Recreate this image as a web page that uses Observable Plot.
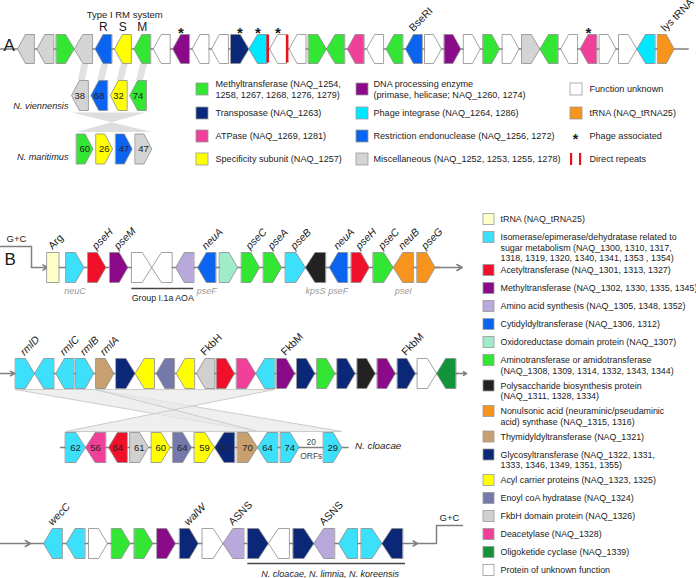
<!DOCTYPE html>
<html><head><meta charset="utf-8">
<script src="https://cdn.jsdelivr.net/npm/d3@7"></script>
<script src="https://cdn.jsdelivr.net/npm/@observablehq/plot@0.6"></script>
<style>body{margin:0;background:#fff} #chart svg{display:block}</style>
</head><body><div id="chart"></div>
<script>
// ================= DATA =================
// Panel A: main island (gene category, orientation: 1 = forward, -1 = reverse)
const rowA_cats = ["misc","misc","methyl","misc","restr","spec","methyl","unk","dna","unk","unk","transp","integr","unk","unk","methyl","methyl","atpase","unk","methyl","restr","unk","dna","unk","methyl","unk","misc","methyl","unk","atpase","unk","unk","integr","trnaA"];
const rowA_dirs = [-1,-1,1,-1,-1,-1,-1,-1,-1,-1,-1,1,-1,-1,-1,1,-1,-1,-1,-1,-1,1,1,1,1,1,1,-1,-1,-1,1,1,-1,1];
const rowA_phage = [8,11,12,13,29];          // phage associated genes (index)
const rowA_repeats = [12,13];                // direct repeat after gene index
const rmIdx = [4,5,6];
const rmLetters = ["R","S","M"];
const rowA_rotIdx = [20,33];
const rowA_rotText = ["BseRI","lys tRNA"];
const vien_cats = ["misc","restr","spec","methyl"];
const vien_dirs = [-1,-1,-1,-1];
const vien_ident = ["38","68","32","74"];
const mari_cats = ["methyl","spec","restr","misc"];
const mari_dirs = [1,1,1,1];
const mari_ident = ["60","26","47","47"];

// Panel B rows
const rowB1_cats = ["trnaB","iso","acetyl","methylB","unk","unk","amino","cytidyl","oxido","aminotr","aminotr","iso","poly","cytidyl","acetyl","aminotr","nonul","nonul"];
const rowB1_dirs = [0,1,1,1,1,-1,-1,-1,1,1,1,1,-1,-1,1,1,-1,1];
const rowB1_topIdx = [0,2,3,7,9,10,11,13,14,15,16,17];
const rowB1_topText = ["Arg","pseH","pseM","neuA","pseC","pseA","pseB","neuA","pseH","pseC","neuB","pseG"];
const rowB1_botIdx = [1,7,12,13,16];
const rowB1_botText = ["neuC","pseF","kpsS","pseF","pseI"];
const rowB2_cats = ["iso","iso","iso","iso","thymid","glyco","acyl","enoyl","acyl","fkbh","acetyl","deacet","iso","methylB","glyco","aminotr","glyco","poly","methylB","glyco","unk","oligo"];
const rowB2_dirs = [1,-1,-1,1,1,1,-1,-1,-1,-1,1,1,-1,1,1,1,1,1,1,1,1,-1];
const rowB2_topIdx = [0,2,3,4,9,13,19];
const rowB2_topText = ["rmlD","rmlC","rmlB","rmlA","FkbH","FkbM","FkbM"];
const clo_cats = ["iso","deacet","acetyl","fkbh","acyl","enoyl","acyl","glyco","thymid","iso","iso","gap","iso"];
const clo_dirs = [1,-1,-1,1,1,1,1,-1,1,-1,1,0,1];
const clo_ident = ["62","56","64","61","60","64","59","63","70","64","74","","29"];
const rowB3_cats = ["iso","iso","unk","aminotr","aminotr","methylB","glyco","unk","amino","glyco","unk","glyco","amino","iso","iso","glyco"];
const rowB3_dirs = [-1,-1,1,1,1,1,1,1,-1,1,-1,1,-1,-1,1,-1];
const rowB3_topIdx = [0,6,8,12];
const rowB3_topText = ["wecC","walW","ASNS","ASNS"];

// Legends
const legA_text = [
  "Methyltransferase (NAQ_1254,\n1258, 1267, 1268, 1276, 1279)", "Transposase (NAQ_1263)", "ATPase (NAQ_1269, 1281)", "Specificity subunit (NAQ_1257)",
  "DNA processing enzyme\n(primase, helicase; NAQ_1260, 1274)", "Phage integrase (NAQ_1264, 1286)", "Restriction endonuclease (NAQ_1256, 1272)", "Miscellaneous (NAQ_1252, 1253, 1255, 1278)",
  "Function unknown", "tRNA (NAQ_tRNA25)", "Phage associated", "Direct repeats"];
const legA_cats = ["methyl","transp","atpase","spec","dna","integr","restr","misc","unk","trnaA","star","repeat"];
const legB_text = [
  "tRNA (NAQ_tRNA25)",
  "Isomerase/epimerase/dehydratase related to\nsugar metabolism (NAQ_1300, 1310, 1317,\n1318, 1319, 1320, 1340, 1341, 1353 , 1354)",
  "Acetyltransferase (NAQ_1301, 1313, 1327)",
  "Methyltransferase (NAQ_1302, 1330, 1335, 1345)",
  "Amino acid synthesis (NAQ_1305, 1348, 1352)",
  "Cytidyldyltransferase (NAQ_1306, 1312)",
  "Oxidoreductase domain protein (NAQ_1307)",
  "Aminotransferase or amidotransferase\n(NAQ_1308, 1309, 1314, 1332, 1343, 1344)",
  "Polysaccharide biosynthesis protein\n(NAQ_1311, 1328, 1334)",
  "Nonulsonic acid (neuraminic/pseudaminic\nacid) synthase (NAQ_1315, 1316)",
  "Thymidyldyltransferase (NAQ_1321)",
  "Glycosyltransferase (NAQ_1322, 1331,\n1333, 1346, 1349, 1351, 1355)",
  "Acyl carrier proteins (NAQ_1323, 1325)",
  "Enoyl coA hydratase (NAQ_1324)",
  "FkbH domain protein (NAQ_1326)",
  "Deacetylase (NAQ_1328)",
  "Oligoketide cyclase (NAQ_1339)",
  "Protein of unknown function"];
const legB_cats = ["trnaB","iso","acetyl","methylB","amino","cytidyl","oxido","aminotr","poly","nonul","thymid","glyco","acyl","enoyl","fkbh","deacet","oligo","unk"];

// ================= STYLE / LAYOUT =================
const COLORS = {
  methyl:"#33e633", transp:"#0b2878", atpase:"#f0409a", spec:"#ffff00", dna:"#8a0a8a",
  integr:"#00e8ff", restr:"#0a64f0", misc:"#d4d4d4", unk:"#ffffff", trnaA:"#f7941d",
  trnaB:"#ffffcc", iso:"#3ce0fa", acetyl:"#f0102a", methylB:"#8a0a8a", amino:"#b8a8dc",
  cytidyl:"#0a64f0", oxido:"#a0ecc8", aminotr:"#33e633", poly:"#222222", nonul:"#f7941d",
  thymid:"#c8a070", glyco:"#0b2878", acyl:"#ffff00", enoyl:"#7478aa", fkbh:"#d0d0d0",
  deacet:"#f0409a", oligo:"#129438"
};
const FONT = '"Liberation Sans", Arial, Helvetica, sans-serif';
const LAY = {
  A:    {x0:17,   pitch:19.4,  w:16.5, yc:48.5, h:29},
  vien: {x0:71,   pitch:19.4,  w:16.5, yc:95,   h:30},
  mari: {x0:76,   pitch:19.6,  w:16.5, yc:148.5,h:30},
  B1:   {x0:43.5, pitch:21.95, w:18,   yc:267,  h:30},
  B2:   {x0:15,   pitch:20.1,  w:18,   yc:373,  h:30},
  clo:  {x0:65,   pitch:21.5,  w:18.5, yc:447,  h:30},
  B3:   {x0:43,   pitch:22.7,  w:18.5, yc:543,  h:30}
};

function buildRow(name, cats, dirs, ident) {
  const L = LAY[name];
  const g = cats.map((c, i) => ({row:name, i, cat:c, dir:dirs[i], ident: ident ? ident[i] : "",
    x0: L.x0 + i*L.pitch, x1: L.x0 + i*L.pitch + L.w, yc: L.yc, h: L.h}));
  for (let i = 0; i < g.length - 1; i++) {
    const a = g[i], b = g[i+1];
    if (a.cat !== "gap" && b.cat !== "gap" && a.dir === 1 && b.dir === -1) {
      const m = (a.x1 + b.x0) / 2; a.x1 = m; b.x0 = m;
    }
  }
  g.forEach(d => { d.cx = (d.x0 + d.x1) / 2; d.top = d.yc - d.h/2; d.bot = d.yc + d.h/2; });
  return g;
}
const rows = {
  A: buildRow("A", rowA_cats, rowA_dirs),
  vien: buildRow("vien", vien_cats, vien_dirs, vien_ident),
  mari: buildRow("mari", mari_cats, mari_dirs, mari_ident),
  B1: buildRow("B1", rowB1_cats, rowB1_dirs),
  B2: buildRow("B2", rowB2_cats, rowB2_dirs),
  clo: buildRow("clo", clo_cats, clo_dirs, clo_ident),
  B3: buildRow("B3", rowB3_cats, rowB3_dirs)
};
const allGenes = Object.values(rows).flat().filter(g => g.cat !== "gap");

function shape(g) {
  const {x0, x1, yc, h, dir} = g, t = h/2;
  if (dir === 0) { const c = (x0+x1)/2, hw = 6; return [[c-hw,yc-t],[c+hw,yc-t],[c+hw,yc+t],[c-hw,yc+t]]; }
  const tl = (x1 - x0) * 0.48;
  if (dir === 1) return [[x0,yc-t],[x1-tl,yc-t],[x1,yc],[x1-tl,yc+t],[x0,yc+t]];
  return [[x1,yc-t],[x0+tl,yc-t],[x0,yc],[x0+tl,yc+t],[x1,yc+t]];
}
const genePts = allGenes.flatMap(g => shape(g).map(([x,y]) => ({id: g.row + "_" + g.i, x, y, fill: COLORS[g.cat]})));

// connectors (homology shading)
function quad(id, x0t, x1t, yt, x0b, x1b, yb, invert) {
  const pts = invert ? [[x0t,yt],[x1t,yt],[x0b,yb],[x1b,yb]] : [[x0t,yt],[x1t,yt],[x1b,yb],[x0b,yb]];
  return pts.map(([x,y]) => ({id, x, y}));
}
const A = rows.A, V = rows.vien, M = rows.mari, B2 = rows.B2, C = rows.clo;
const connA = [3].concat(rmIdx).map((gi, k) => {
  const top = A[gi], bot = V[k];
  return quad("c"+k, top.cx-2, top.cx+5, top.bot+0.5, bot.cx-2, bot.cx+5, bot.top-0.5, false);
}).flat();
const hour = quad("h", V[0].x0, V[3].x1, V[0].bot+2, M[0].x0, M[3].x1, M[0].top-2, true);
const connB = [
  ...quad("b1", B2[0].x0, B2[3].x1, B2[0].bot+1, C[9].x0, C[12].x1, C[0].top-1, false),
  ...quad("b2", B2[4].x0, B2[12].x1, B2[0].bot+1, C[0].x0, C[8].x1, C[0].top-1, true)
];

// backbone lines
const B1 = rows.B1, B3 = rows.B3;
const lines = [
  {id:"A", pts:[[0,A[0].yc],[A[A.length-1].x1+14,A[0].yc]]},
  {id:"B1g", pts:[[0,246],[31,246],[31,B1[0].yc]]},
  {id:"B1", pts:[[46,B1[0].yc],[B1[B1.length-1].x1+5,B1[0].yc]]},
  {id:"B2", pts:[[14,B2[0].yc],[B2[B2.length-1].x1+2,B2[0].yc]]},
  {id:"clo", pts:[[C[0].x0-5,C[0].yc],[C[C.length-1].x1+6,C[0].yc]]},
  {id:"B3", pts:[[30,B3[0].yc],[B3[B3.length-1].x1,B3[0].yc]]},
  {id:"B3g", pts:[[415,B3[0].yc],[436,B3[0].yc],[436,525],[462,525]]}
].flatMap(l => l.pts.map(([x,y]) => ({id:l.id, x, y})));
const arrows = [
  {x1:31, y1:B1[0].yc, x2:47, y2:B1[0].yc},
  {x1:B1[B1.length-1].x1, y1:B1[0].yc, x2:B1[B1.length-1].x1+27, y2:B1[0].yc},
  {x1:0, y1:B2[0].yc, x2:14, y2:B2[0].yc},
  {x1:B2[B2.length-1].x1, y1:B2[0].yc, x2:B2[B2.length-1].x1+11, y2:B2[0].yc},
  {x1:0, y1:B3[0].yc, x2:30, y2:B3[0].yc},
  {x1:B3[B3.length-1].x1, y1:B3[0].yc, x2:B3[B3.length-1].x1+15, y2:B3[0].yc}
];

// rotated labels
const rotLabels = [
  ...rowA_rotIdx.map((gi,k) => ({g:A[gi], t:rowA_rotText[k], it:false})),
  ...rowB1_topIdx.map((gi,k) => ({g:B1[gi], t:rowB1_topText[k], it: rowB1_topText[k] !== "Arg"})),
  ...rowB2_topIdx.map((gi,k) => ({g:B2[gi], t:rowB2_topText[k], it: !/^Fkb/.test(rowB2_topText[k])})),
  ...rowB3_topIdx.map((gi,k) => ({g:B3[gi], t:rowB3_topText[k], it: rowB3_topText[k] !== "ASNS"}))
].map(d => ({x: d.g.cx - 3, y: d.g.top - 5, t: d.t, it: d.it}));
const botLabels = rowB1_botIdx.map((gi,k) => ({x: B1[gi].cx, y: B1[gi].bot + 9, t: rowB1_botText[k]}));

// legend A layout
const legAcolX = [196, 356, 570], legArowY = [89, 113, 136, 159];
const legA = legA_text.map((t,k) => ({t, cat: legA_cats[k], col: Math.floor(k/4), row: k % 4}));
const legASw = legA.filter(d => COLORS[d.cat]).map(d => ({x1: legAcolX[d.col], x2: legAcolX[d.col]+12, y1: legArowY[d.row]-6, y2: legArowY[d.row]+6, fill: COLORS[d.cat]}));
const legALines = legA.flatMap(d => {
  const ls = d.t.split("\n");
  return ls.map((s, j) => ({x: legAcolX[d.col] + (d.col===1 ? 17 : 19), y: legArowY[d.row] + (ls.length===2 ? (j===0 ? -5 : 6) : 0), t: s}));
});
const legAStar = legA.filter(d => d.cat === "star").map(d => ({x: legAcolX[d.col]+5, y: legArowY[d.row]+3}));
const legARep = legA.filter(d => d.cat === "repeat").flatMap(d => [0,9].map(o => ({x1: legAcolX[d.col]+o, x2: legAcolX[d.col]+o+2.2, y1: legArowY[d.row]-6, y2: legArowY[d.row]+6})));

// legend B layout
let yy = 219;
const legB = legB_text.map((t,k) => { const ls = t.split("\n"); const d = {lines: ls, cat: legB_cats[k], y: yy}; yy += 18 + (ls.length-1)*7.5; return d; });
const legBSw = legB.map(d => ({x1:483, x2:494, y1:d.y-5.5, y2:d.y+5.5, fill: COLORS[d.cat]}));
const legBLines = legB.flatMap(d => d.lines.map((s,j) => ({x:500, y:d.y + j*10.5, t:s})));

// asterisks and repeats on row A
const stars = rowA_phage.map(i => ({x: A[i].cx, y: A[i].top - 1}));
const repeats = rowA_repeats.map(i => { const m = (A[i].x1 + A[i+1].x0)/2; return {x1: m-1.3, x2: m+1.3, y1: A[i].top+0.5, y2: A[i].bot-0.5}; });

const chart = Plot.plot({
  width: 696, height: 578, margin: 0,
  x: {domain:[0,696], range:[0,696], axis:null},
  y: {domain:[0,578], range:[0,578], axis:null},
  color: {type:"identity"},
  style: {fontFamily: FONT, background:"#fff", color:"#1a1a1a"},
  marks: [
    // homology shading
    Plot.line(connA, {x:"x", y:"y", z:"id", fill:"#e2e2e2", stroke:"none", curve:"linear-closed"}),
    Plot.line(hour, {x:"x", y:"y", z:"id", fill:"#dedede", stroke:"none", curve:"linear-closed"}),
    Plot.line(connB, {x:"x", y:"y", z:"id", fill:"#e8e8e8", fillOpacity:0.7, stroke:"#cccccc", strokeWidth:1, curve:"linear-closed"}),
    // backbones
    Plot.line(lines, {x:"x", y:"y", z:"id", stroke:"#808080", strokeWidth:1.5}),
    Plot.arrow(arrows, {x1:"x1", y1:"y1", x2:"x2", y2:"y2", stroke:"#808080", strokeWidth:1.5, headLength:6}),
    // genes
    Plot.line(genePts, {x:"x", y:"y", z:"id", fill:"fill", stroke:"#8a8a8a", strokeWidth:0.8, curve:"linear-closed"}),
    Plot.text(allGenes.filter(g => g.ident), {x:"cx", y:"yc", text:"ident", fontSize:9.5, fill:"#222"}),
    Plot.text(C.filter(g => g.cat === "gap"), {x:"cx", y:"yc", text:() => "20\nORFs", lineHeight:1.6, fontSize:8.5, fill:"#444"}),
    // direct repeats + phage stars
    Plot.rect(repeats, {x1:"x1", x2:"x2", y1:"y1", y2:"y2", fill:"#e8101a"}),
    Plot.text(stars, {x:"x", y:"y", text:() => "*", fontSize:15, fontWeight:"bold"}),
    // row A annotations
    Plot.text(rmIdx.map((gi,k) => ({x:A[gi].cx, t:rmLetters[k]})), {x:"x", y:() => 27, text:"t", fontSize:12}),
    Plot.text([{x:(A[rmIdx[0]].x0 + A[rmIdx[2]].x1)/2 + 2, t:"Type I RM system"}], {x:"x", y:() => 14, text:"t", fontSize:9.5}),
    Plot.text([{t:"A", x:3, y:45}, {t:"B", x:4, y:259}], {x:"x", y:"y", text:"t", fontSize:17, textAnchor:"start"}),
    Plot.text([{t:"N. viennensis", x:V[0].x0 - 3, y:V[0].yc + 11}, {t:"N. maritimus", x:M[0].x0 - 8, y:M[0].yc + 8}], {x:"x", y:"y", text:"t", fontSize:9.2, fontStyle:"italic", textAnchor:"end"}),
    Plot.text([{t:"N. cloacae", x:C[C.length-1].x1 + 13, y:C[0].yc - 2}], {x:"x", y:"y", text:"t", fontSize:9.8, fontStyle:"italic", textAnchor:"start"}),
    // rotated gene names
    Plot.text(rotLabels.filter(d => d.it), {x:"x", y:"y", text:"t", rotate:-45, textAnchor:"start", fontSize:10.5, fontStyle:"italic"}),
    Plot.text(rotLabels.filter(d => !d.it), {x:"x", y:"y", text:"t", rotate:-45, textAnchor:"start", fontSize:10.5}),
    Plot.text(botLabels, {x:"x", y:"y", text:"t", fontSize:9, fontStyle:"italic", fill:"#9a9a9a"}),
    // underlines in B
    Plot.ruleY([{x1:B1[4].x0, x2:B1[6].x1, y:B1[0].bot+6}, {x1:B3[9].x0, x2:B3[15].x1+3, y:B3[0].bot+5}], {x1:"x1", x2:"x2", y:"y", stroke:"#444", strokeWidth:1.3}),
    Plot.text([{x:(B1[4].x0+B1[6].x1)/2, y:B1[0].bot+16, t:"Group I.1a AOA"}], {x:"x", y:"y", text:"t", fontSize:8.8}),
    Plot.text([{x:(B3[9].x0+B3[15].x1)/2+5, y:B3[0].bot+15.5, t:"N. cloacae, N. limnia, N. koreensis"}], {x:"x", y:"y", text:"t", fontSize:9, fontStyle:"italic"}),
    Plot.text([{x:16, y:238, t:"G+C"}, {x:449, y:517, t:"G+C"}], {x:"x", y:"y", text:"t", fontSize:9.5}),
    // legend A
    Plot.rect(legASw, {x1:"x1", x2:"x2", y1:"y1", y2:"y2", fill:"fill", stroke:"#9a9a9a", strokeWidth:0.8}),
    Plot.text(legALines, {x:"x", y:"y", text:"t", fontSize:9.1, textAnchor:"start", fill:"#222"}),
    Plot.text(legAStar, {x:"x", y:"y", text:() => "*", fontSize:14, fontWeight:"bold"}),
    Plot.rect(legARep, {x1:"x1", x2:"x2", y1:"y1", y2:"y2", fill:"#e8101a"}),
    // legend B
    Plot.rect(legBSw, {x1:"x1", x2:"x2", y1:"y1", y2:"y2", fill:"fill", stroke:"#9a9a9a", strokeWidth:0.8}),
    Plot.text(legBLines, {x:"x", y:"y", text:"t", fontSize:8.9, textAnchor:"start", fill:"#222"})
  ]
});
document.getElementById("chart").append(chart);
</script>
</body></html>
